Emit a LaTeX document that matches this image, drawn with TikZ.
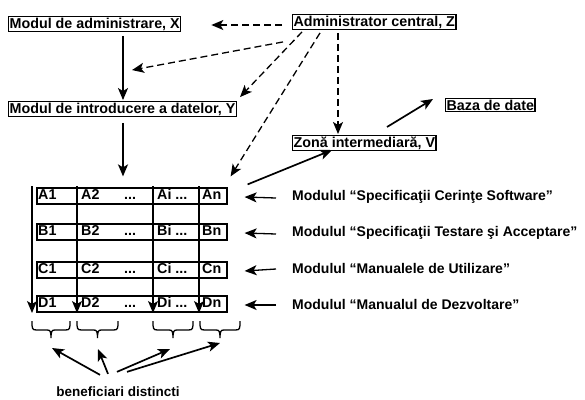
\documentclass[tikz,border=0pt]{standalone}
\usepackage{fontspec}
\setmainfont{Liberation Sans}
\usetikzlibrary{arrows.meta}
\begin{document}
\begin{tikzpicture}[x=1pt,y=-1pt,
  font=\fontsize{14.3}{16}\selectfont\bfseries,
  box/.style={draw, line width=1.3pt, inner sep=1pt, anchor=west},
  rowbox/.style={draw, line width=1.2pt, minimum width=190pt, minimum height=16pt, inner sep=0pt},
  cell/.style={anchor=west, inner sep=0pt, text height=10pt, text depth=3pt},
  lbl/.style={anchor=west, inner sep=0pt, font=\fontsize{14}{16}\selectfont\bfseries},
  tipd/.style={-{Stealth[length=12pt,width=10pt,inset=3pt]}},
  dsh/.style={tipd, dash pattern=on 7pt off 4pt, line width=1.3pt},
  sol/.style={tipd, line width=1.7pt},
  thin/.style={tipd, line width=1.3pt},
  brc/.style={line width=1.3pt}]
\useasboundingbox (0,0) rectangle (585,399);

% top boxes
\node[box] (X) at (8,24) {Modul de administrare, X};
\node[box] (Z) at (292,22) {Administrator central, Z};
\node[box] (Y) at (8,109) {Modul de introducere a datelor, Y};
\node[box] (V) at (292,143) {Zonă intermediară, V};
\node[box] (BD) at (445,105) {Baza de date};

% table rows
\node[rowbox] (rA) at (132,196) {};
\node[rowbox] (rB) at (132,232) {};
\node[rowbox] (rC) at (132,270) {};
\node[rowbox] (rD) at (132,304) {};

\foreach \r/\yy in {A/196,B/232,C/270,D/304}{
  \node[cell] (\r1) at (38,\yy) {\r1};
  \node[cell] (\r2) at (81,\yy) {\r2};
  \node[cell] (\r d) at (124,\yy) {...};
  \node[cell] (\r i) at (157,\yy) {\r i ...};
  \node[cell] (\r n) at (202,\yy) {\r n};
}

% vertical column lines
\foreach \k/\xx in {0/32,1/77,2/153,3/199}{
  \coordinate (v\k t) at (\xx,186);
  \coordinate (v\k b) at (\xx,313);
  \draw[thin] (v\k t) -- (v\k b);
}

% right labels
\node[lbl] (LA) at (292,197) {Modulul “Specificaţii Cerinţe Software”};
\node[lbl] (LB) at (292,233) {Modulul “Specificaţii Testare şi Acceptare”};
\node[lbl] (LC) at (292,268) {Modulul “Manualele de Utilizare”};
\node[lbl] (LD) at (292,304) {Modulul “Manualul de Dezvoltare”};
\foreach \r in {A,B,C,D}{
  \draw[thin] ([shift={(-16,1)}]L\r.west) -- ([shift={(17,1)}]r\r.east);
}

% dashed arrows from Z
\draw[dsh] ([shift={(-10,3)}]Z.west) -- ([shift={(30,1)}]X.east);
\draw[dsh] ([shift={(-9,12)}]Z.south west) -- ([shift={(124,-31)}]Y.north west);
\draw[dsh] ([shift={(10,2)}]Z.south west) -- ([shift={(232,-4)}]Y.north west);
\draw[dsh] ([shift={(28,3)}]Z.south west) -- ([shift={(3,-11)}]rA.north east);
\draw[dsh] ([shift={(46,3)}]Z.south west) -- ([shift={(46,-1)}]V.north west);

% solid arrows
\draw[sol] ([shift={(115,4)}]X.south west) -- ([shift={(115,-1)}]Y.north west);
\draw[sol] ([shift={(115,6)}]Y.south west) -- ([shift={(-9,-11)}]rA.north);
\draw[sol] ([shift={(20,-3)}]rA.north east) -- ([shift={(40,-1)}]V.south west);
\draw[sol] ([shift={(95,-8)}]V.north west) -- ([shift={(-12,-6)}]BD.west);

% braces (drawn directly)
\foreach \l/\r in {32/70,77/118,153/193,200/240}{
  \pgfmathsetmacro{\m}{(\l+\r)/2}
  \draw[brc] (\l,321) .. controls (\l,329) and (\l,330) .. (\l+5,330)
     -- (\m-4,330) .. controls (\m-1,330) and (\m,331) .. (\m,338)
     .. controls (\m,331) and (\m+1,330) .. (\m+4,330)
     -- (\r-5,330) .. controls (\r,330) and (\r,329) .. (\r,321);
}

\node[inner sep=0pt, font=\fontsize{13.5}{15}\selectfont\bfseries] (ben) at (118,392) {beneficiari distincti};
\coordinate (t1) at (52,348);
\coordinate (t2) at (98,349);
\coordinate (t3) at (170,349);
\coordinate (t4) at (220,343);
\draw[sol] ([shift={(-18,-12)}]ben.north) -- (t1);
\draw[sol] ([shift={(-10,-13)}]ben.north) -- (t2);
\draw[sol] ([shift={(-1,-15)}]ben.north) -- (t3);
\draw[sol] ([shift={(9,-15)}]ben.north) -- (t4);
\end{tikzpicture}
\end{document}
